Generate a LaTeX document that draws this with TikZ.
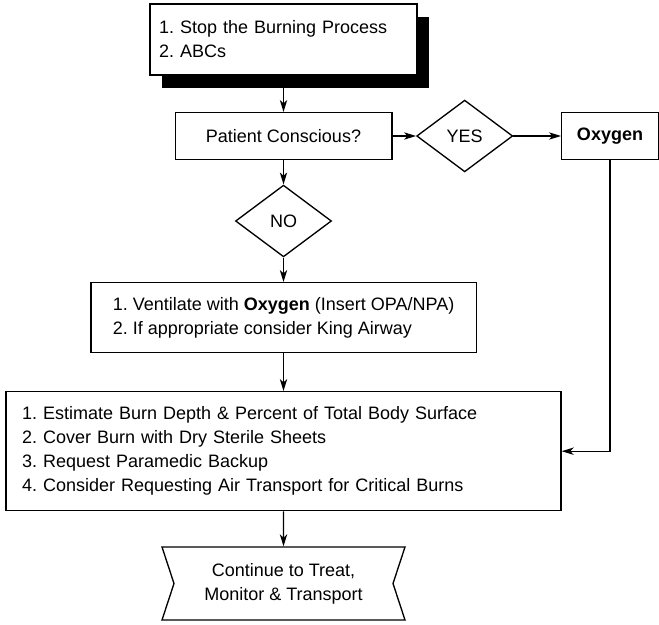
\documentclass[tikz,border=0pt]{standalone}
\usepackage{fontspec}
\setmainfont{Liberation Sans}
\usetikzlibrary{arrows.meta}
\usetikzlibrary{positioning}
\usetikzlibrary{shapes.geometric}
\usetikzlibrary{shapes.symbols}
\usetikzlibrary{shadows}
\frenchspacing
\tikzset{box/.style = {draw, rectangle, line width = 1pt, inner sep = 0, fill = white}}
\tikzset{dec/.style = {draw, diamond, line width = 1pt, inner sep = 0,
                       minimum width = 72pt, minimum height = 53.8pt}}
\tikzset{endbox/.style = {draw, signal, signal to = nowhere, signal from = west and east,
                          signal pointer angle = 143.6, line width = 1pt, inner sep = 0,
                          minimum width = 182.25pt, minimum height = 54.75pt, align = center}}
\tikzset{flow/.style = {line width = 1pt,
                        -{Stealth[length = 9pt, width = 5.5pt, inset = 2.5pt]}}}

\begin{document}
\begin{tikzpicture}[x = 0.75pt, y = -0.75pt, font = \fontsize{13.5}{18}\selectfont]
          \useasboundingbox (0, 0) rectangle (659, 624);
          \node [box, text width = 186.75pt, inner xsep = 6.75pt, minimum height = 53.25pt, align = left,
                 drop shadow = {shadow xshift = 9pt, shadow yshift = -9.75pt, fill = black, opacity = 1}]
                (stop) at (283.5, 39.5) {1. Stop the Burning Process\\2. ABCs};
          \node [box, minimum width = 162.5pt, minimum height = 35pt] (conscious) at (283.5, 136) {Patient Conscious?};
          \node [dec] (yes) at (464.7, 136) {YES};
          \node [box, minimum width = 72.5pt, minimum height = 35.5pt] (oxygen) at (610, 136) {\textbf{Oxygen}};
          \node [dec] (no) at (283.5, 221) {NO};
          \node [box, minimum width = 289pt, minimum height = 52.5pt, align = left]
                (ventilate) at (283.5, 317.7) {1. Ventilate with \textbf{Oxygen} (Insert OPA/NPA)\\
                                               2. If appropriate consider King Airway};
          \node [box, text width = 392.25pt, inner xsep = 12pt, minimum height = 89.25pt, align = left]
                (assess) at (283.5, 451.2) {1. Estimate Burn Depth \& Percent of Total Body Surface\\
                                            2. Cover Burn with Dry Sterile Sheets\\
                                            3. Request Paramedic Backup\\
                                            4. Consider Requesting Air Transport for Critical Burns};
          \node [endbox] (continue) at (283.5, 583.5) {Continue to Treat,\\Monitor \& Transport};
          % connectors
          \draw [flow] (stop) -- (conscious);
          \draw [flow] (conscious) -- (yes);
          \draw [flow] (yes) -- (oxygen);
          \draw [flow] (conscious) -- (no);
          \draw [flow] (no) -- (ventilate);
          \draw [flow] (ventilate) -- (assess);
          \draw [flow] (oxygen) |- (assess);
          \draw [flow] (assess) -- (continue);
        \end{tikzpicture}
\end{document}
